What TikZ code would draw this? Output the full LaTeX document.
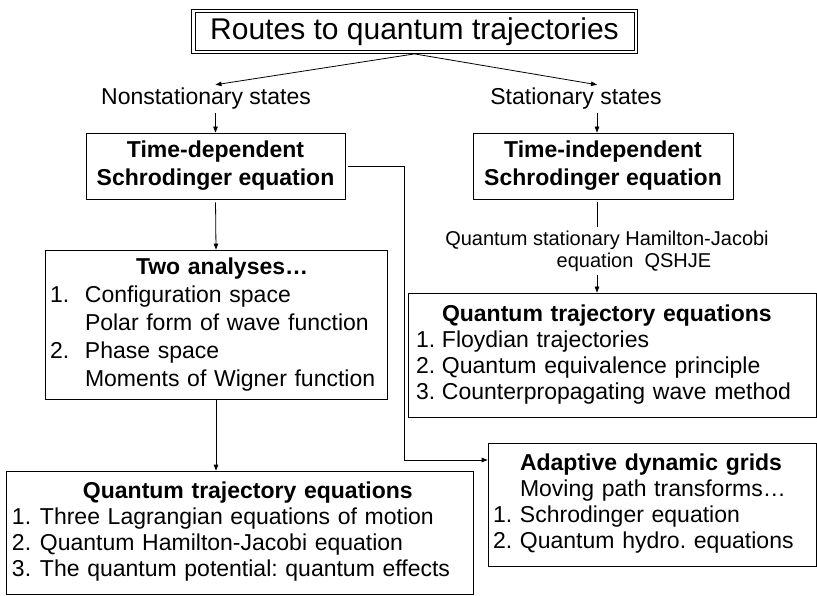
\documentclass[tikz,border=0pt]{standalone}
\usepackage{fontspec}
\setmainfont{Liberation Sans}
\usetikzlibrary{arrows.meta}
\frenchspacing

\newcommand{\titlesz}{\fontsize{30}{34}\selectfont}
\newcommand{\txtsz}{\fontsize{23}{26}\selectfont}
\newcommand{\smsz}{\fontsize{20}{22}\selectfont}
\newcommand{\hdsz}{\fontsize{23}{28}\selectfont}

\begin{document}
\begin{tikzpicture}[x=1pt, y=-1pt, font=\txtsz,
    box/.style={draw, line width=0.8pt},
    listbox/.style={box, align=left, inner ysep=0pt},
    arr/.style={-{Triangle[length=6pt,width=4.5pt]}, line width=0.8pt},
    lin/.style={line width=0.8pt}]

      \useasboundingbox (0,0) rectangle (817,596);

      % title, with its second frame
      \node[box, minimum width=439pt, minimum height=38pt]
        (title) at (414.5,31.5) {\titlesz Routes to quantum trajectories};
      \draw[lin] ([shift={(-3pt,3pt)}]title.north west) rectangle ([shift={(3pt,-3pt)}]title.south east);

      % the two kinds of states
      \node (nonst) at (206,99) {Nonstationary states};
      \node (stat) at (576,99) {Stationary states};
      \path (stat.south) ++(21pt,0) coordinate (rx);

      % Schrodinger equations
      \node[box, minimum width=259pt, minimum height=66pt, align=center, font=\hdsz\bfseries]
        (tdse) at (215.5,166) {Time-dependent\\ Schrodinger equation};
      \node[box, minimum width=260pt, minimum height=66pt, align=center, font=\hdsz\bfseries]
        (tise) at (603,166) {Time-independent\\ Schrodinger equation};

      % left column
      \node[listbox, text width=332pt, inner xsep=5pt, minimum height=149pt]
        (two) at (216,324.5) {\fontsize{23}{28}\selectfont
        \begin{tabular}{@{}l@{}l@{}}
          \multicolumn{2}{@{}l@{}}{\hspace*{86pt}\textbf{Two analyses\ldots}}\\
          \makebox[35pt][l]{1.} & Configuration space\\
          & Polar form of wave function\\
          \makebox[35pt][l]{2.} & Phase space\\
          & Moments of Wigner function
        \end{tabular}};

      \node[listbox, text width=455pt, inner xsep=6pt, minimum height=123pt]
        (qtel) at (239.5,532.5) {%
        \begin{tabular}{@{}l@{}l@{}}
          \multicolumn{2}{@{}l@{}}{\hspace*{71pt}\textbf{Quantum trajectory equations}}\\
          \makebox[28pt][l]{1.} & Three Lagrangian equations of motion\\
          \makebox[28pt][l]{2.} & Quantum Hamilton-Jacobi equation\\
          \makebox[28pt][l]{3.} & The quantum potential: quantum effects
        \end{tabular}};

      % right column
      \node[align=center, font=\smsz] (qshje) at (607,251)
        {Quantum stationary Hamilton-Jacobi\\ \hspace*{54pt}equation~~QSHJE};

      \node[listbox, text width=392pt, inner xsep=8pt, minimum height=124pt]
        (qter) at (612,355) {%
        \begin{tabular}{@{}l@{}l@{}}
          & \textbf{Quantum trajectory equations}\\
          \makebox[26pt][l]{1.} & Floydian trajectories\\
          \makebox[26pt][l]{2.} & Quantum equivalence principle\\
          \makebox[26pt][l]{3.} & Counterpropagating wave method
        \end{tabular}};

      \node[listbox, text width=318pt, inner xsep=5pt, minimum height=123pt]
        (adg) at (652,504.5) {%
        \begin{tabular}{@{}l@{}l@{}}
          & \textbf{Adaptive dynamic grids}\\
          & Moving path transforms\ldots\\
          \makebox[27pt][l]{1.} & Schrodinger equation\\
          \makebox[27pt][l]{2.} & Quantum hydro. equations
        \end{tabular}};

      % connectors
      \coordinate (turn) at (404,460);
      \draw[arr] ([yshift=-3pt]title.south) -- (nonst.north -| tdse.north);
      \draw[arr] ([yshift=-3pt]title.south) -- (rx |- stat.north);
      \draw[arr] (nonst.south -| tdse.north) -- (tdse.north);
      \draw[arr] (rx |- stat.south) -- (rx |- tise.north);
      \draw[lin] ([yshift=-3pt]rx |- tise.south) -- (rx |- qshje.north);
      \draw[arr] (rx |- qshje.south) -- (rx |- qter.north);
      \draw[arr, shorten <=3pt] (tdse.south) -- (two.north);
      \draw[arr] (two.south) -- (two.south |- qtel.north);
      \draw[arr, shorten <=3pt] (tdse.east) -| (turn) -- (turn -| adg.west);

\end{tikzpicture}
\end{document}
